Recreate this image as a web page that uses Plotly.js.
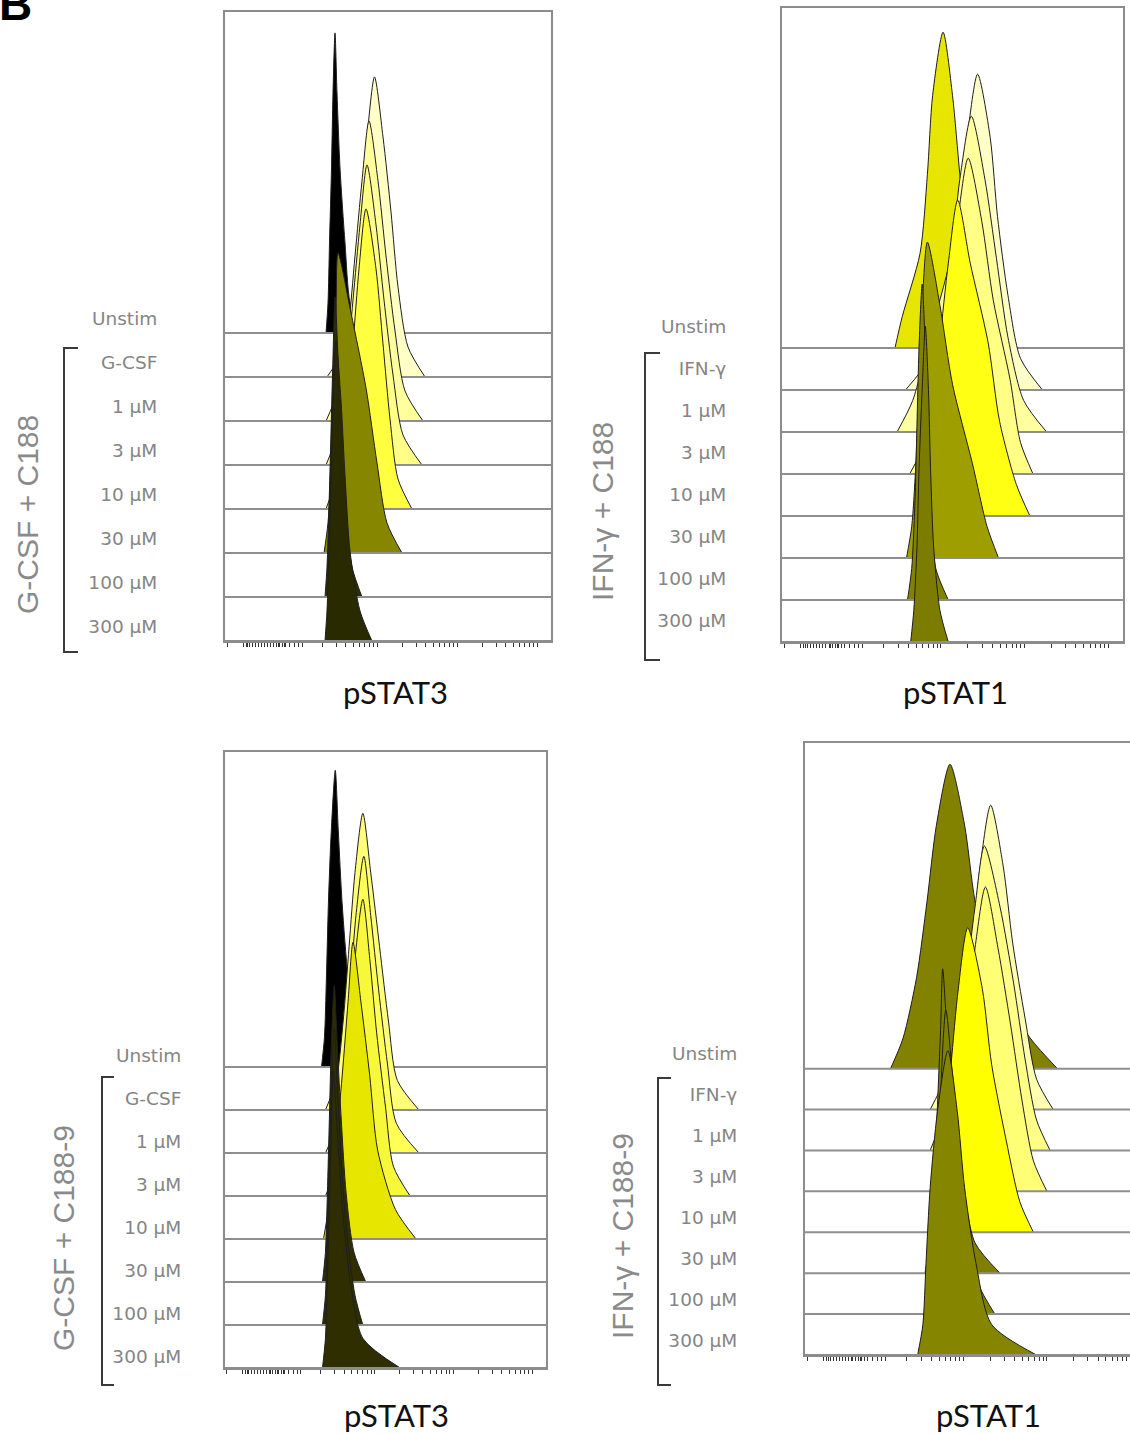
<!DOCTYPE html>
<html><head><meta charset="utf-8">
<script src="https://cdn.plot.ly/plotly-3.0.1.min.js"></script>
<style>html,body{margin:0;padding:0;background:#fff}#chart{width:1130px;height:1434px}</style>
</head><body><div id="chart"></div>
<script>
// ---------------- DATA ----------------
// Heights (percent of mode) at which each histogram outline is sampled, left foot -> peak -> right foot
const levelsPct = [0, 10, 30, 55, 80, 100, 80, 55, 30, 10, 0];

const labelsGCSF = ['Unstim', 'G-CSF', '1 µM', '3 µM', '10 µM', '30 µM', '100 µM', '300 µM'];
const labelsIFN  = ['Unstim', 'IFN-γ', '1 µM', '3 µM', '10 µM', '30 µM', '100 µM', '300 µM'];

// x positions (display channels, full axis = 0..326) of each histogram at levelsPct
const pSTAT3_C188 = [
  [101, 103, 104.5, 106.5, 108, 110, 112, 115, 120, 125, 135],
  [102, 120, 128, 135, 142, 149.5, 158, 166, 173, 183, 200],
  [101, 113, 123, 130, 137, 144, 153, 161, 170, 180, 198],
  [101, 112, 121, 128, 135, 142, 151, 159, 168, 178, 197],
  [101, 111, 121, 128, 134, 141, 151, 158, 165, 173, 187],
  [99, 103, 106, 109, 111, 113, 126, 141, 152, 162, 177],
  [100, 102, 104, 106, 108, 110, 113, 116, 120, 127, 137],
  [100, 102, 104, 106, 108, 111, 116, 120, 125, 135, 147]
];
const pSTAT1_C188 = [
  [108, 115, 132, 139, 144, 154, 163, 170, 178, 187, 199],
  [118, 141, 158, 168, 177, 187, 199, 206, 216, 228, 249],
  [110, 125, 141, 161, 170, 181, 194, 205, 216, 231, 253],
  [122, 137, 151, 161, 168, 178, 191, 202, 218, 228, 240],
  [127, 137, 146, 151, 159, 168, 180, 197, 208, 224, 237],
  [119, 124, 128, 131, 134, 139, 151, 163, 182, 196, 207],
  [120, 124, 127, 129, 131, 134, 137, 140, 142, 147, 159],
  [123, 126, 129, 131, 134, 137, 140, 142, 145, 151, 159]
];
const pSTAT3_C1889 = [
  [98, 101, 103, 105, 108, 112, 115, 119, 125, 133, 143],
  [102, 113, 120, 126, 132, 140, 148, 157, 166, 175, 197],
  [102, 114, 121, 127, 133, 141, 148, 156, 165, 174, 197],
  [102, 113, 120, 126, 132, 140, 147, 154, 163, 171, 188],
  [100, 105, 112, 119, 125, 130, 138, 147, 155, 173, 194],
  [99, 102, 104, 106, 108, 111, 114, 118, 123, 131, 143],
  [99, 102, 104, 106, 108, 111, 114, 118, 124, 132, 140],
  [99, 102, 104, 106, 108, 110, 114, 119, 127, 140, 178]
];
const pSTAT1_C1889 = [
  [82, 94, 107, 117, 126, 139, 153, 163, 180, 216, 242],
  [120, 134, 149, 160, 168, 178, 190, 199, 211, 222, 238],
  [120, 131, 144, 154, 163, 172, 187, 200, 211, 222, 235],
  [120, 131, 144, 154, 163, 173, 185, 197, 208, 219, 232],
  [120, 128, 134, 140, 147, 156, 170, 179, 193, 206, 219],
  [115, 120, 124, 127, 130, 132, 136, 141, 151, 163, 187],
  [115, 120, 125, 129, 131, 135, 141, 147, 154, 166, 182],
  [108, 113, 116, 120, 127, 137, 146, 153, 164, 179, 222]
];

// ---------------- STYLE / LAYOUT ----------------
const W = 1130, H = 1434;
const colorsA = ['#000000', '#FFFFC6', '#FFFF9C', '#FFFF88', '#FFFF3F', '#868600', '#2E2E00', '#2A2A00'];
const colorsB = ['#E6E600', '#FFFFC8', '#FFFF9E', '#FFFF85', '#FFFF14', '#9E9E00', '#828200', '#7C7C00'];
const colorsC = ['#000000', '#FFFF78', '#FFFF55', '#F8F83A', '#E6E600', '#2E2E00', '#2E2E00', '#2E2E00'];
const colorsD = ['#828200', '#FFFFB0', '#FFFF88', '#FFFF75', '#FFFF00', '#808000', '#808000', '#858500'];

const panels = [
  {data: pSTAT3_C188, colors: colorsA, labels: labelsGCSF, ytitle: 'G-CSF + C188', xtitle: 'pSTAT3',
   px: [225, 551], py: [12, 641], top: 14.295, peak: 6.82, lift: 0.33, standoff: 62, xmax: 326, mirrorY: true,
   bracket: [64, 78, 348, 652], yt: [27, 515], xt: [395, 692]},
  {data: pSTAT1_C188, colors: colorsB, labels: labelsIFN, ytitle: 'IFN-γ + C188', xtitle: 'pSTAT1',
   px: [782, 1123], py: [8, 642], top: 15.095, peak: 7.52, lift: 0.52, standoff: 50, xmax: 326, mirrorY: true,
   bracket: [645, 660, 353, 660], yt: [602, 512], xt: [955, 692]},
  {data: pSTAT3_C1889, colors: colorsC, labels: labelsGCSF, ytitle: 'G-CSF + C188-9', xtitle: 'pSTAT3',
   px: [225, 546], py: [752, 1368], top: 14.326, peak: 6.9, lift: 0.26, standoff: 38, xmax: 326, mirrorY: true,
   bracket: [102, 114, 1077, 1385], yt: [63, 1238], xt: [396, 1415]},
  {data: pSTAT1_C1889, colors: colorsD, labels: labelsIFN, ytitle: 'IFN-γ + C188-9', xtitle: 'pSTAT1',
   px: [805, 1130], py: [743, 1355], top: 14.96, peak: 7.44, lift: 0.36, standoff: 62, xmax: 311.6, mirrorY: false,
   bracket: [658, 671, 1078, 1385], yt: [622, 1236], xt: [988, 1415]}
];

// axis tick marks (biexponential display look)
const xTicks = [2];
for (let v = 18; v <= 62; v += 3) xTicks.push(v);
[77, 152, 232, 312].forEach(d => {
  xTicks.push(d);
  for (let k = 2; k <= 9; k++) { const t = d - 78 + Math.log10(k) * 78; if (t > d - 78 + 10) xTicks.push(t); }
});
xTicks.sort((a, b) => a - b);

const traces = [];
const layout = {
  width: W, height: H, margin: {l: 0, r: 0, t: 0, b: 0},
  paper_bgcolor: '#ffffff', plot_bgcolor: '#ffffff', showlegend: false,
  annotations: [], shapes: []
};
const PX = v => v / W, PY = v => 1 - v / H;

panels.forEach((p, i) => {
  const n = i === 0 ? '' : String(i + 1);
  const xa = 'x' + n, ya = 'y' + n;
  p.data.forEach((xs, r) => {
    const base = 7 - r;
    traces.push({
      type: 'scatter', mode: 'lines', x: xs, y: levelsPct.map(v => base + v / 100 * p.peak),
      fill: 'toself', fillcolor: p.colors[r],
      line: {color: '#1e1e1e', width: 1, shape: 'spline', smoothing: 0.75},
      xaxis: xa, yaxis: ya, hoverinfo: 'skip', showlegend: false
    });
    traces.push({
      type: 'scatter', mode: 'lines', x: [0, p.xmax], y: [base, base],
      line: {color: '#8e8e8e', width: 2}, xaxis: xa, yaxis: ya, hoverinfo: 'skip', showlegend: false
    });
  });
  layout['xaxis' + n] = {
    domain: [PX(p.px[0]), PX(p.px[1])], range: [0, p.xmax], anchor: ya,
    showgrid: false, zeroline: false, showline: true, mirror: true, linecolor: '#8c8c8c', linewidth: 2,
    ticks: 'outside', ticklen: 4, tickwidth: 1, tickcolor: '#333', tickvals: xTicks, showticklabels: false,
    fixedrange: true
  };
  layout['yaxis' + n] = {
    domain: [PY(p.py[1]), PY(p.py[0])], range: [0, p.top], anchor: xa,
    showgrid: false, zeroline: false, showline: true, mirror: p.mirrorY, linecolor: '#8c8c8c', linewidth: 2,
    ticks: '', tickvals: p.labels.map((_, r) => 7 - r + p.lift), ticktext: p.labels,
    tickfont: {family: 'DejaVu Sans', size: 18.5, color: '#858585'}, ticklabelstandoff: p.standoff,
    fixedrange: true
  };
  const b = p.bracket;
  layout.shapes.push({
    type: 'path', xref: 'paper', yref: 'paper',
    path: `M ${PX(b[1])},${PY(b[2])} L ${PX(b[0])},${PY(b[2])} L ${PX(b[0])},${PY(b[3])} L ${PX(b[1])},${PY(b[3])}`,
    line: {color: '#3a3a3a', width: 2}
  });
  layout.annotations.push({
    text: p.ytitle, xref: 'paper', yref: 'paper', x: PX(p.yt[0]), y: PY(p.yt[1]),
    xanchor: 'center', yanchor: 'middle', textangle: -90, showarrow: false,
    font: {family: 'Liberation Sans, Arial', size: 30, color: '#8a8a8a'}
  });
  layout.annotations.push({
    text: p.xtitle, xref: 'paper', yref: 'paper', x: PX(p.xt[0]), y: PY(p.xt[1]),
    xanchor: 'center', yanchor: 'middle', showarrow: false,
    font: {family: 'Lato', size: 31, color: '#111111'}
  });
});

layout.annotations.push({
  text: '<b>B</b>', xref: 'paper', yref: 'paper', x: PX(-3), y: PY(32), xanchor: 'left', yanchor: 'bottom',
  showarrow: false, font: {family: 'Liberation Sans, Arial', size: 46, color: '#000'}
});

Plotly.newPlot('chart', traces, layout, {displayModeBar: false, staticPlot: true});
</script>
</body></html>
